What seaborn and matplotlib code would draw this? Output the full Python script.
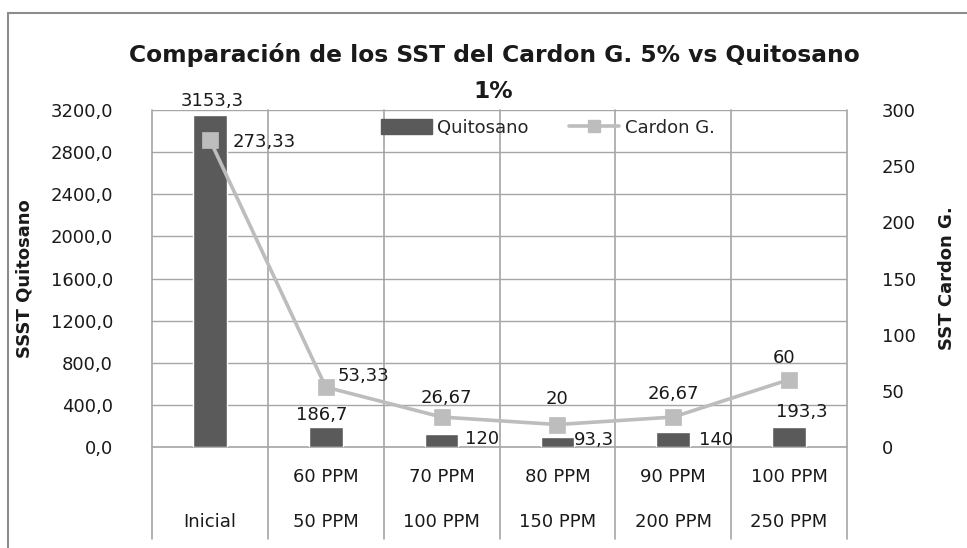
import matplotlib
matplotlib.use("Agg")
import matplotlib.pyplot as plt
import seaborn as sns
import pandas as pd
from matplotlib.lines import Line2D
from matplotlib.patches import Patch
import matplotlib.transforms as mtransforms

# ---- data ----
categories = ["Inicial", "50 PPM", "100 PPM", "150 PPM", "200 PPM", "250 PPM"]
inner_labels = ["", "60 PPM", "70 PPM", "80 PPM", "90 PPM", "100 PPM"]
quitosano = [3153.3, 186.7, 120, 93.3, 140, 193.3]
cardon = [273.33, 53.33, 26.67, 20, 26.67, 60]
quitosano_txt = ["3153,3", "186,7", "120", "93,3", "140", "193,3"]
cardon_txt = ["273,33", "53,33", "26,67", "20", "26,67", "60"]
left_ticks = [0, 400, 800, 1200, 1600, 2000, 2400, 2800, 3200]
right_ticks = [0, 50, 100, 150, 200, 250, 300]

sns.set_style("white")
plt.rcParams['font.family'] = ['DejaVu Sans']

BAR = "#5a5a5a"
LINE = "#bdbdbd"
GRID = "#a6a6a6"
TXT = "#1a1a1a"
FS = 13

df = pd.DataFrame({"cat": categories, "q": quitosano, "c": cardon})

fig = plt.figure(figsize=(9.67, 5.48), dpi=100)
ax = fig.add_axes([152/967, (548-447)/548, (847-152)/967, (447-110)/548])

sns.barplot(data=df, x="cat", y="q", color=BAR, width=0.29, ax=ax,
            saturation=1, zorder=3)
ax.set_ylim(0, 3200)
ax.set_xlim(-0.5, 5.5)
ax.set_yticks(left_ticks)
ax.set_yticklabels([f"{v:.1f}".replace(".", ",") for v in left_ticks],
                   fontsize=FS, color=TXT)
ax.tick_params(axis='y', length=0, pad=28)
ax.set_xticks([])
ax.set_xlabel("")
ax.set_ylabel("SSST Quitosano", fontsize=13, fontweight='bold', color=TXT, labelpad=12)
ax.grid(axis='y', color=GRID, linewidth=1, zorder=0)
ax.set_axisbelow(True)
for s in ax.spines.values():
    s.set_visible(False)
ax.axhline(0, color=GRID, linewidth=1.2, clip_on=False, zorder=2)

# vertical separators (category table lines)
for xv in [-0.5, 0.5, 1.5, 2.5, 3.5, 4.5, 5.5]:
    ax.axvline(xv, ymin=-0.272, ymax=1, color=GRID, linewidth=1.2,
               clip_on=False, zorder=1)

ax2 = ax.twinx()
sns.pointplot(x=list(range(6)), y=cardon, native_scale=True, color=LINE,
              markers='s', markersize=10, linewidth=2.6, ax=ax2, zorder=4)
ax2.set_ylim(0, 300)
ax2.set_xlim(-0.5, 5.5)
ax2.set_yticks(right_ticks)
ax2.set_yticklabels([str(v) for v in right_ticks], fontsize=FS, color=TXT)
ax2.tick_params(axis='y', length=0, pad=25)
ax2.set_ylabel("SST Cardon G.", fontsize=13, fontweight='bold', color=TXT,
               rotation=90, labelpad=16)
ax2.grid(False)
for s in ax2.spines.values():
    s.set_visible(False)

# category labels (two levels)
trans = mtransforms.blended_transform_factory(ax.transData, ax.transAxes)
for i in range(6):
    ax.text(i, -0.089, inner_labels[i], transform=trans, ha='center', va='center',
            fontsize=FS, color=TXT)
    ax.text(i, -0.222, categories[i], transform=trans, ha='center', va='center',
            fontsize=FS, color=TXT)

# bar labels: (dx, dy) in pixels, alignment
bar_pos = [(2, 14, 'center'), (-4, 12, 'center'), (23, -5, 'left'),
           (16, -3, 'left'), (26, -8, 'left'), (13, 15, 'center')]
for i, (dx, dy, ha) in enumerate(bar_pos):
    ax.annotate(quitosano_txt[i], (i, quitosano[i]), xytext=(dx, dy),
                textcoords='offset pixels', ha=ha, va='center', fontsize=FS,
                color=TXT, annotation_clip=False, zorder=6)

line_pos = [(23, -2, 'left'), (12, 11, 'left'), (5, 19, 'center'),
            (0, 26, 'center'), (0, 23, 'center'), (-5, 22, 'center')]
for i, (dx, dy, ha) in enumerate(line_pos):
    ax2.annotate(cardon_txt[i], (i, cardon[i]), xytext=(dx, dy),
                 textcoords='offset pixels', ha=ha, va='center', fontsize=FS,
                 color=TXT, annotation_clip=False, zorder=6)

# legend
handles = [Patch(facecolor=BAR, edgecolor=BAR),
           Line2D([0], [0], color=LINE, linewidth=2.6, marker='s', markersize=9)]
ax2.legend(handles, ["Quitosano", "Cardon G."], loc='center',
           bbox_to_anchor=((548 - 152) / 695, (447 - 128) / 337), ncol=2,
           frameon=False, fontsize=FS, handlelength=2.8, handleheight=0.9,
           columnspacing=2.2, handletextpad=0.3)

# title
fig.text(494/967, 1 - 55/548, "Comparación de los SST del Cardon G. 5% vs Quitosano",
         ha='center', va='center', fontsize=16.8, fontweight='bold', color=TXT)
fig.text(493/967, 1 - 92/548, "1%", ha='center', va='center', fontsize=16.8,
         fontweight='bold', color=TXT)

# outer chart border (partially visible)
fig.add_artist(Line2D([8/967, 8/967], [0, 1 - 13/548], transform=fig.transFigure,
                      color="#8c8c8c", linewidth=1.5))
fig.add_artist(Line2D([8/967, 1], [1 - 13/548, 1 - 13/548], transform=fig.transFigure,
                      color="#8c8c8c", linewidth=1.5))

fig.savefig("out.png", dpi=100)
